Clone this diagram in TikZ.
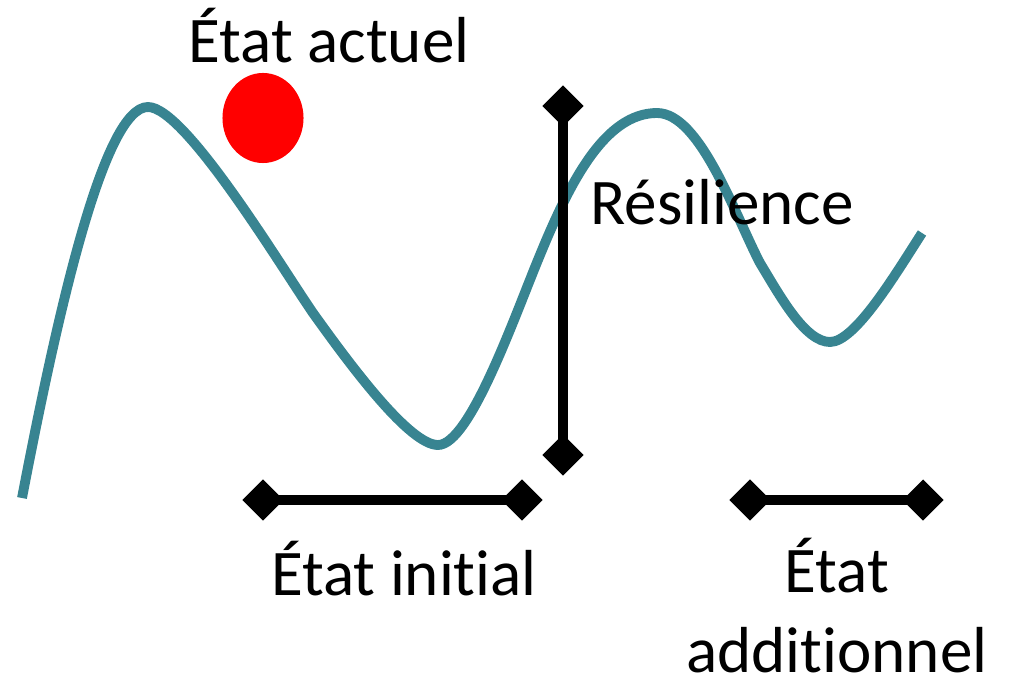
\documentclass[tikz,border=0pt]{standalone}
\usepackage{fontspec}
\setmainfont{Carlito}[Ligatures=NoCommon]
\usetikzlibrary{shapes.geometric}
\definecolor{courbe}{RGB}{56,132,145}

\begin{document}
\begin{tikzpicture}[x=0.01cm, y=-0.01cm,
	tick/.style = {diamond, fill=black, inner sep=0pt, outer sep=0pt, minimum width=0.41cm, minimum height=0.41cm},
	barre/.style = {draw=black, line width=2.7pt},
	lbl/.style = {anchor=base, inner sep=0pt, font=\fontsize{18.5pt}{22.5pt}\selectfont, align=center}]
	\useasboundingbox (0,0) rectangle (1015,679);
	% paysage
	\draw[courbe, line width=2.8pt] (22,498) .. controls (60,300) and (105,107) .. (148,107)
		.. controls (185,107) and (280,265) .. (313,313)
		.. controls (353,369) and (410,445) .. (438,445)
		.. controls (470,445) and (515,315) .. (540,255)
		.. controls (570,182) and (605,113) .. (657,113)
		.. controls (700,113) and (735,215) .. (760,263)
		.. controls (780,296) and (805,342) .. (830,342)
		.. controls (855,342) and (895,275) .. (922,233);
	\node[ellipse, fill=red, inner sep=0pt, minimum width=0.81cm, minimum height=0.9cm] (bille) at (263,118) {};
	\node[tick] (r1) at (563,106) {};
	\node[tick] (r2) at (563,455) {};
	\node[tick] (i1) at (263,500) {};
	\node[tick] (i2) at (522,500) {};
	\node[tick] (a1) at (750,500) {};
	\node[tick] (a2) at (923,500) {};
	\draw[barre] (r1.center) -- (r2.center);
	\draw[barre] (i1.center) -- (i2.center);
	\draw[barre] (a1.center) -- (a2.center);
	\node[lbl] (actuel) at (329,63) {État actuel};
	\node[lbl] (resil) at (722,225) {Résilience};
	\node[lbl] (initial) at (404,595) {État initial};
	\node[lbl] (addit) at (837,672) {État\\additionnel};
\end{tikzpicture}
\end{document}
